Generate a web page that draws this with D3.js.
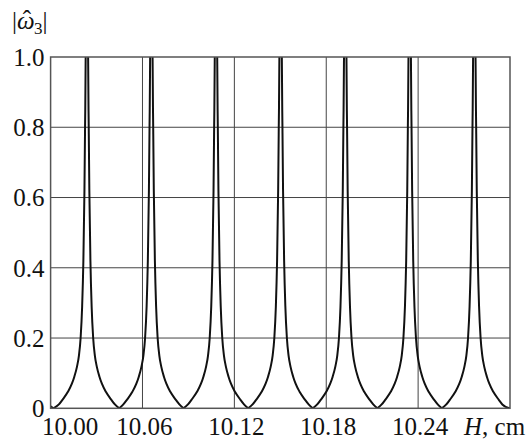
<!DOCTYPE html>
<html>
<head>
<meta charset="utf-8">
<script src="https://cdn.jsdelivr.net/npm/d3@7"></script>
<style>
  body { margin: 0; background: #fff; font-family: "Liberation Serif"; }
  svg text, svg tspan { font-family: "Liberation Serif" !important; }
</style>
</head>
<body>
<script>
// tick values
const xTicks = [10.00, 10.06, 10.12, 10.18, 10.24]
const yTicks = [0, 0.2, 0.4, 0.6, 0.8, 1.0]

// resonance peaks (H, cm) and zeros between them
const peakH = [10.0237, 10.0658, 10.1080, 10.1502, 10.1924, 10.2345, 10.2767]
const zeroH = [10.0018, 10.0448, 10.0868, 10.1290, 10.1712, 10.2134, 10.2555, 10.2995]

// shape of one peak: distance from the peak centre -> |omega_3|
const peakOffset = [0.0006, 0.0008, 0.0012, 0.0016, 0.0023, 0.0031, 0.0041, 0.0052, 0.0065, 0.0082, 0.0098, 0.0124, 0.0160, 0.0183]
const peakLevel = [1.3, 1.0, 0.80, 0.62, 0.42, 0.29, 0.20, 0.15, 0.118, 0.09, 0.07, 0.047, 0.024, 0.011]

// the bits of curve at the two ends of the range
const edgeH = [10.0000, 10.3000]
const edgeLevel = [0.006, 0.002]

// 1. Dimensions
let dimensions = {
  width: 530,
  height: 445,
  margin: { top: 57, right: 20, bottom: 36.7, left: 50.6 },
}
dimensions.boundedWidth = dimensions.width - dimensions.margin.left - dimensions.margin.right
dimensions.boundedHeight = dimensions.height - dimensions.margin.top - dimensions.margin.bottom

// 2. Build the series
const segments = []
segments.push([{ h: edgeH[0], v: edgeLevel[0] }, { h: zeroH[0], v: 0 }])
peakH.forEach((c, i) => {
  const seg = [{ h: zeroH[i], v: 0 }]
  for (let k = peakOffset.length - 1; k >= 0; k--) seg.push({ h: c - peakOffset[k], v: peakLevel[k] })
  for (let k = 0; k < peakOffset.length; k++) seg.push({ h: c + peakOffset[k], v: peakLevel[k] })
  seg.push({ h: zeroH[i + 1], v: 0 })
  segments.push(seg)
})
segments.push([{ h: zeroH[zeroH.length - 1], v: 0 }, { h: edgeH[1], v: edgeLevel[1] }])

// 3. Canvas
const wrapper = d3.select("body")
  .append("svg")
    .attr("width", dimensions.width)
    .attr("height", dimensions.height)

const bounds = wrapper.append("g")
    .attr("transform", `translate(${dimensions.margin.left}, ${dimensions.margin.top})`)

bounds.append("defs").append("clipPath")
    .attr("id", "bounds-clip-path")
  .append("rect")
    .attr("width", dimensions.boundedWidth)
    .attr("height", dimensions.boundedHeight)

// 4. Scales
const xScale = d3.scaleLinear()
  .domain([10.00, 10.30])
  .range([0, dimensions.boundedWidth])

const yScale = d3.scaleLinear()
  .domain([0, 1])
  .range([dimensions.boundedHeight, 0])

// 5. Grid
bounds.append("g")
  .selectAll("line")
  .data(xTicks.slice(1))
  .join("line")
    .attr("x1", d => xScale(d))
    .attr("x2", d => xScale(d))
    .attr("y1", 0)
    .attr("y2", dimensions.boundedHeight)
    .attr("stroke", "#444")
    .attr("stroke-width", 1)

bounds.append("g")
  .selectAll("line")
  .data(yTicks.slice(1, -1))
  .join("line")
    .attr("x1", 0)
    .attr("x2", dimensions.boundedWidth)
    .attr("y1", d => yScale(d))
    .attr("y2", d => yScale(d))
    .attr("stroke", "#444")
    .attr("stroke-width", 1)

// 6. Curve
const lineGenerator = d3.line()
  .x(d => xScale(d.h))
  .y(d => yScale(d.v))
  .curve(d3.curveMonotoneX)

bounds.append("g")
    .attr("clip-path", "url(#bounds-clip-path)")
  .selectAll("path")
  .data(segments)
  .join("path")
    .attr("d", lineGenerator)
    .attr("fill", "none")
    .attr("stroke", "#111")
    .attr("stroke-width", 2)

// frame
bounds.append("rect")
    .attr("width", dimensions.boundedWidth)
    .attr("height", dimensions.boundedHeight)
    .attr("fill", "none")
    .attr("stroke", "#555")
    .attr("stroke-width", 1.5)

// 7. Axes
const xAxis = bounds.append("g")
    .attr("transform", `translate(0, ${dimensions.boundedHeight})`)
  .call(d3.axisBottom(xScale).tickValues(xTicks).tickFormat(d3.format(".2f")).tickSize(0))
xAxis.attr("font-family", "Liberation Serif").attr("font-size", 25)
xAxis.select(".domain").remove()
xAxis.selectAll("text")
    .attr("y", 27)
    .attr("dy", 0)
    .attr("fill", "#111")
    .attr("dx", d => d === 10.00 ? 19 : 1.5)

const yAxis = bounds.append("g")
  .call(d3.axisLeft(yScale).tickValues(yTicks).tickFormat(d => d === 0 ? "0" : d3.format(".1f")(d)).tickSize(0))
yAxis.attr("font-family", "Liberation Serif").attr("font-size", 25)
yAxis.select(".domain").remove()
yAxis.selectAll("text")
    .attr("x", -6)
    .attr("dy", "0.33em")
    .attr("fill", "#111")

// axis titles
const xTitle = wrapper.append("text")
    .attr("x", 464)
    .attr("y", 435)
    .attr("fill", "#111")
    .attr("font-family", "Liberation Serif")
    .attr("font-size", 25)
xTitle.append("tspan").attr("font-style", "italic").text("H")
xTitle.append("tspan").text(", cm")

const yTitle = wrapper.append("text")
    .attr("x", 12)
    .attr("y", 29)
    .attr("fill", "#111")
    .attr("font-family", "Liberation Serif")
    .attr("font-size", 25)
yTitle.append("tspan").text("|")
yTitle.append("tspan").attr("font-style", "italic").text("ω")
yTitle.append("tspan").attr("dx", -12).attr("dy", -1).text("ˆ")
yTitle.append("tspan").attr("dx", 3).attr("dy", 6).attr("font-size", 17).text("3")
yTitle.append("tspan").attr("dy", -5).text("|")
</script>
</body>
</html>
